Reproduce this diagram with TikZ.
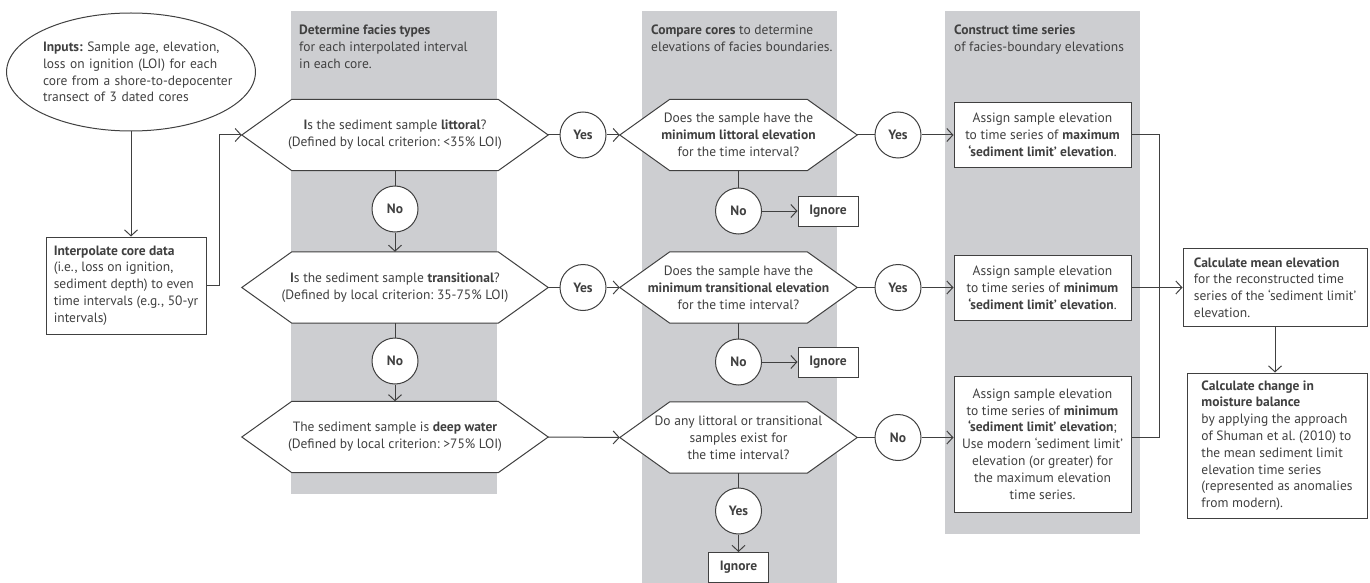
\documentclass[tikz,border=0pt]{standalone}
\usepackage{fontspec}
\setmainfont{PT Sans}
\usetikzlibrary{shapes.geometric,arrows.meta,backgrounds}
\frenchspacing

\definecolor{ink}{RGB}{64,64,64}
\definecolor{panelgray}{RGB}{205,206,209}

% Sechseck um einen Frageknoten
\newcommand{\hexout}[1]{%
	\draw[hexline] (#1.west) -- ([xshift=50pt]#1.north west) -- ([xshift=-50pt]#1.north east)
		-- (#1.east) -- ([xshift=-50pt]#1.south east) -- ([xshift=50pt]#1.south west) -- cycle;}

\begin{document}
\begin{tikzpicture}[
	x=1pt, y=-1pt,
	every node/.style={
		font=\fontsize{13.5}{16.8}\selectfont,
		text=ink
	},
	panel/.style={fill=panelgray},
	head/.style={
		anchor=north west,
		align=left,
		inner sep=0pt
	},
	inputbox/.style={
		ellipse,
		draw=ink,
		line width=1pt,
		minimum width=248pt,
		minimum height=118pt,
		inner sep=0pt,
		text width=176pt,
		align=left
	},
	query/.style={
		minimum height=71pt,
		inner sep=0pt,
		align=center
	},
	hexline/.style={draw=ink,fill=white,line width=1pt},
	answer/.style={
		circle,
		draw=ink,
		fill=white,
		line width=1pt,
		minimum size=46pt,
		inner sep=0pt,
		font=\fontsize{13.5}{16.8}\selectfont\bfseries
	},
	stepbox/.style={
		rectangle,
		draw=ink,
		fill=white,
		line width=1pt,
		align=center,
		inner sep=0pt
	},
	notebox/.style={
		stepbox,
		align=left
	},
	ignorebox/.style={
		stepbox,
		minimum width=60pt,
		minimum height=30pt,
		font=\fontsize{13.5}{16.8}\selectfont\bfseries
	},
	link/.style={draw=ink,line width=1pt},
	flow/.style={link,-{Straight Barb[length=6pt,width=13pt]}}
]
\useasboundingbox (0,0) rectangle (1370,583);

% Eingangsdaten
\node[inputbox] (inputs) at (131,72) {\mbox{\textbf{Inputs:} Sample age, elevation,}\\\mbox{loss on ignition (LOI) for each}\\\mbox{core from a shore-to-depocenter}\\\mbox{transect of 3 dated cores}};
\node[notebox,minimum width=160pt,minimum height=97pt] (interp) at (126,285.5) {\textbf{Interpolate core data}\\(i.e., loss on ignition,\\sediment depth) to even\\time intervals (e.g., 50-yr\\intervals)};

% Spaltenkoepfe
\node[head] (head1) at (299,25) {\textbf{Determine facies types}\\for each interpolated interval\\in each core.};
\node[head] (head2) at (651,25) {\textbf{Compare cores} to determine\\elevations of facies boundaries.};
\node[head] (head3) at (954,25) {\textbf{Construct time series}\\of facies-boundary elevations};

% Spalte 1: Faziestyp
\node[query,minimum width=306pt] (lit) at (395,135) {\textbf{I}s the sediment sample \textbf{littoral}?\\(Defined by local criterion: <35\% LOI)};
\node[query,minimum width=306pt] (trans) at (395,287.5) {\textbf{I}s the sediment sample \textbf{transitional}?\\(Defined by local criterion: 35-75\% LOI)};
\node[query,minimum width=306pt] (deep) at (395,437) {The sediment sample is \textbf{deep water}\\(Defined by local criterion: >75\% LOI)};
\node[answer] (yes1) at (583,135) {Yes};
\node[answer] (yes3) at (583,287.5) {Yes};
\node[answer] (no1) at (395,209) {No};
\node[answer] (no2) at (395,361) {No};

% Spalte 2: Kerne vergleichen
\node[query,minimum width=237pt] (minlit) at (738.5,135) {Does the sample have the\\\textbf{minimum littoral elevation}\\for the time interval?};
\node[query,minimum width=237pt] (mintr) at (738.5,287.5) {Does the sample have the\\\textbf{minimum transitional elevation}\\for the time interval?};
\node[query,minimum width=237pt] (anylt) at (738.5,437.5) {Do any littoral or transitional\\samples exist for\\the time interval?};
\node[answer] (yes2) at (898,135) {Yes};
\node[answer] (yes4) at (898,287.5) {Yes};
\node[answer] (no3) at (898,437.5) {No};
\node[answer] (nolit) at (738.5,211) {No};
\node[answer] (notr) at (738.5,362) {No};
\node[answer] (yes5) at (738.5,511) {Yes};
\node[ignorebox] (ign1) at (828,211) {Ignore};
\node[ignorebox] (ign2) at (828,362) {Ignore};
\node[ignorebox] (ign3) at (738.5,567.5) {Ignore};

% Spalte 3: Zeitreihen
\node[stepbox,minimum width=177pt,minimum height=65pt] (a1) at (1042.5,135) {Assign sample elevation\\to time series of \textbf{maximum}\\\textbf{`sediment limit' elevation}.};
\node[stepbox,minimum width=177pt,minimum height=65pt] (a2) at (1042.5,287.5) {Assign sample elevation\\to time series of \textbf{minimum}\\\textbf{`sediment limit' elevation}.};
\node[stepbox,minimum width=177pt,minimum height=136pt] (a3) at (1042.5,444) {Assign sample elevation\\to time series of \textbf{minimum}\\\textbf{`sediment limit' elevation};\\Use modern `sediment limit'\\elevation (or greater) for\\the maximum elevation\\time series.};

% Auswertung
\node[notebox,minimum width=184pt,minimum height=78pt] (mean) at (1275,287.5) {\textbf{Calculate mean elevation}\\for the reconstructed time\\series of the `sediment limit'\\elevation.};
\node[notebox,minimum width=180pt,minimum height=145pt] (change) at (1277,445.5) {\textbf{Calculate change in}\\\textbf{moisture balance}\\by applying the approach\\of Shuman et al. (2010) to\\the mean sediment limit\\elevation time series\\(represented as anomalies\\from modern).};
\coordinate (join) at (1159,287.5);

% Verbindungen links
\draw[flow] (inputs.south) -- (inputs.south |- interp.north);
\draw[flow] (interp.east) -- ++(13,0) |- (lit.west);

% Verbindungen littoral
\draw[link] (lit.east) -- (yes1);
\draw[flow] (yes1) -- (minlit.west);
\draw[link] (minlit.east) -- (yes2);
\draw[flow] (yes2) -- (a1.west);
\draw[link] (minlit.south) -- (nolit);
\draw[flow] (nolit) -- (ign1);
\draw[link] (lit.south) -- (no1);
\draw[flow] (no1) -- (trans.north);

% Verbindungen transitional
\draw[link] (trans.east) -- (yes3);
\draw[flow] (yes3) -- (mintr.west);
\draw[link] (mintr.east) -- (yes4);
\draw[flow] (yes4) -- (a2.west);
\draw[link] (mintr.south) -- (notr);
\draw[flow] (notr) -- (ign2);
\draw[link] (trans.south) -- (no2);
\draw[flow] (no2) -- (deep.north);

% Verbindungen deep water
\draw[flow] (deep.east) -- (anylt.west);
\draw[link] (anylt.east) -- (no3);
\draw[flow] (no3) -- (no3 -| a3.west);
\draw[link] (anylt.south) -- (yes5);
\draw[flow] (yes5) -- (ign3);

% Verbindungen rechts
\draw[link] (a1.east) -| (join);
\draw[link] (no3 -| a3.east) -| (join);
\draw[flow] (a2.east) -- (a2.east -| mean.west);
\draw[flow] (mean.south) -- (mean.south |- change.north);

% Hintergrund
\begin{scope}[on background layer]
\fill[panel] (291,11) rectangle (497,494);
\fill[panel] (642,11) rectangle (837,583);
\fill[panel] (945,11) rectangle (1140,534);
\foreach \q in {lit,trans,deep,minlit,mintr,anylt} {\hexout{\q}}
\end{scope}

\end{tikzpicture}
\end{document}
